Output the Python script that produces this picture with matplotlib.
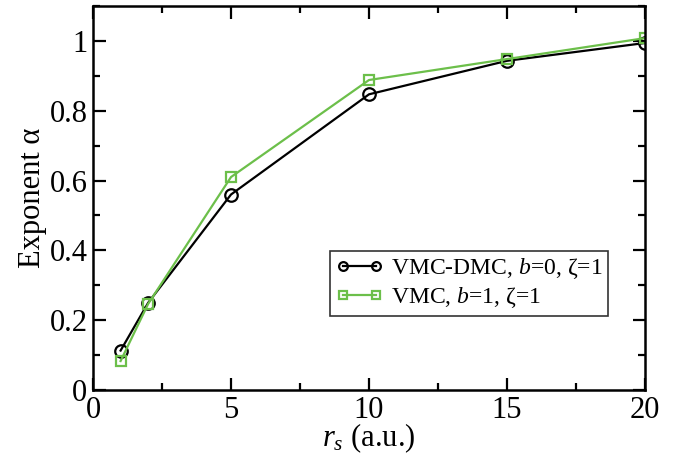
import numpy as np
import matplotlib
matplotlib.use("Agg")
import matplotlib.pyplot as plt
from matplotlib.ticker import MultipleLocator

plt.rcParams['font.family'] = ['Liberation Serif', 'DejaVu Serif']
plt.rcParams['mathtext.fontset'] = 'custom'
plt.rcParams['mathtext.rm'] = 'Liberation Serif'
plt.rcParams['mathtext.it'] = 'Liberation Serif:italic'

# data
rs = [1, 2, 5, 10, 15, 20]
alpha_dmc = [0.113, 0.250, 0.560, 0.847, 0.943, 0.994]
alpha_vmc = [0.083, 0.247, 0.610, 0.888, 0.948, 1.008]

green = '#6cbf4a'

fig = plt.figure(figsize=(6.76, 4.59), dpi=100)
ax = fig.add_axes([93 / 676, 69 / 459, 552 / 676, 384 / 459])

ax.plot(rs, alpha_dmc, color='black', lw=1.6, marker='o', ms=9,
        mfc='none', mec='black', mew=1.6, label='VMC-DMC, $b$=0, ζ=1')
ax.plot(rs, alpha_vmc, color=green, lw=1.6, marker='s', ms=7.5,
        mfc='none', mec=green, mew=1.6, label='VMC, $b$=1, ζ=1')

ax.set_xlim(0, 20)
ax.set_ylim(0, 1.1)
ax.xaxis.set_minor_locator(MultipleLocator(2.5))
ax.yaxis.set_minor_locator(MultipleLocator(0.1))
ax.set_xticks([0, 5, 10, 15, 20])
ax.set_xticklabels(['0', '5', '10', '15', '20'])
ax.set_yticks([0, 0.2, 0.4, 0.6, 0.8, 1.0])
ax.set_yticklabels(['0', '0.2', '0.4', '0.6', '0.8', '1'])

ax.tick_params(which='both', direction='in', top=True, right=True,
               labelsize=22, width=1.6)
ax.tick_params(which='major', length=9, pad=4)
ax.tick_params(which='minor', length=5)
for s in ax.spines.values():
    s.set_linewidth(1.8)

ax.set_xlabel('$r_s$ (a.u.)', fontsize=22, labelpad=-2)
ax.set_ylabel('Exponent α', fontsize=22, labelpad=2)

leg = ax.legend(loc='lower right', bbox_to_anchor=(0.933, 0.193), fontsize=17,
                frameon=True, fancybox=False, edgecolor='black',
                numpoints=2, markerscale=0.7,
                handlelength=2.0, handletextpad=0.3, borderpad=0.25,
                labelspacing=0.15, borderaxespad=0)
leg.get_frame().set_linewidth(1.2)

plt.savefig('out.png', dpi=100)
